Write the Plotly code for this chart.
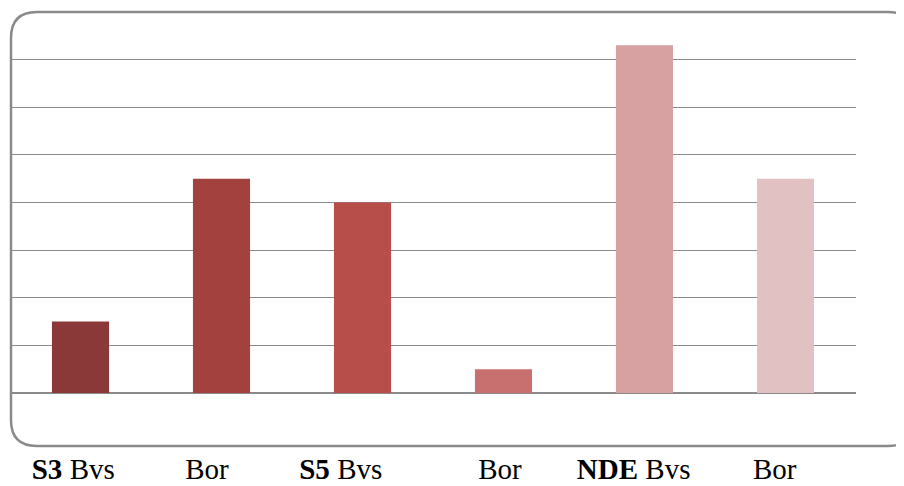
import plotly.graph_objects as go

categories = ["S3 Bvs", "S3 Bor", "S5 Bvs", "S5 Bor", "NDE Bvs", "NDE Bor"]
tick_labels = ["<b>S3</b> Bvs", "Bor", "<b>S5</b> Bvs", "Bor", "<b>NDE</b> Bvs", "Bor"]
values = [1.5, 4.5, 4.0, 0.5, 7.3, 4.5]
bar_colors = ["#8B3838", "#A3413F", "#B84E4A", "#C8706F", "#D7A1A2", "#E1C1C2"]

# labels in the original sit a bit left of their bars; pad with trailing nbsp
label_pad = [2, 4, 6, 1, 3, 3]

W, H = 904, 486
OFF = 8  # page body margin shifts the figure by this much
ML, MT = 10 - OFF, 12 - OFF
MR = W - (856 - OFF)
MB = H - (393 - OFF)
pw, ph = W - ML - MR, H - MT - MB


def px(x):
    return (x - OFF - ML) / pw


def py(y):
    return (393 - y) / ph


def rounded_box(x0, y0, x1, y1, r):
    # rounded rectangle in paper coords, built from screen pixel positions
    return (
        f"M {px(x0 + r)},{py(y0)} L {px(x1 - r)},{py(y0)} "
        f"Q {px(x1)},{py(y0)} {px(x1)},{py(y0 + r)} "
        f"L {px(x1)},{py(y1 - r)} Q {px(x1)},{py(y1)} {px(x1 - r)},{py(y1)} "
        f"L {px(x0 + r)},{py(y1)} Q {px(x0)},{py(y1)} {px(x0)},{py(y1 - r)} "
        f"L {px(x0)},{py(y0 + r)} Q {px(x0)},{py(y0)} {px(x0 + r)},{py(y0)} Z"
    )


fig = go.Figure(
    go.Bar(
        x=categories,
        y=values,
        marker=dict(color=bar_colors, line=dict(width=0)),
        hoverinfo="x+y",
    )
)

fig.add_shape(
    type="path",
    xref="paper",
    yref="paper",
    path=rounded_box(11, 12, 914, 446, 26),
    line=dict(color="#8a8a8a", width=2.5),
    layer="above",
)

fig.update_layout(
    width=W + OFF,
    height=H,
    margin=dict(l=ML, r=MR + OFF, t=MT, b=MB),
    paper_bgcolor="white",
    plot_bgcolor="white",
    showlegend=False,
    bargap=0.595,
    font=dict(family="Liberation Serif, Times New Roman, serif", size=29, color="black"),
)
fig.update_xaxes(
    tickmode="array",
    tickvals=categories,
    ticktext=[t + "\u00a0" * n for t, n in zip(tick_labels, label_pad)],
    showgrid=False,
    showline=False,
    ticks="",
    ticklabelstandoff=56,
    tickfont=dict(size=29),
)
fig.update_yaxes(
    range=[0, 8],
    dtick=1,
    showticklabels=False,
    showgrid=True,
    gridcolor="#8a8a8a",
    gridwidth=1,
    zeroline=True,
    zerolinecolor="#8a8a8a",
    zerolinewidth=2,
    showline=False,
)

fig.write_html("out.html")
